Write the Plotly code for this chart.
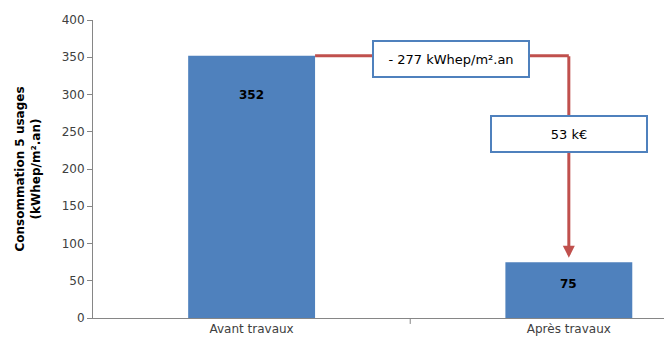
import plotly.graph_objects as go

# données
categories = ["Avant travaux", "Après travaux"]
valeurs = [352, 75]
pos_etiquettes = [299, 46]
cout = "53 k€"
gain = valeurs[0] - valeurs[1]

bleu = "#4F81BD"
rouge = "#C0504D"
police = "'DejaVu Sans', sans-serif"

fig = go.Figure()

fig.add_trace(
    go.Bar(
        x=[0, 1],
        y=valeurs,
        width=0.4,
        marker=dict(color=bleu, line=dict(width=0)),
        hoverinfo="skip",
    )
)

# valeurs dans les barres
for i, v in enumerate(valeurs):
    fig.add_annotation(
        x=i, y=pos_etiquettes[i], xref="x", yref="y",
        text=f"<b>{v}</b>", showarrow=False,
        font=dict(size=12, color="black", family=police),
    )

# ligne horizontale rouge depuis le haut de la 1re barre
fig.add_shape(
    type="line", xref="x", yref="y",
    x0=0.2, x1=1, y0=valeurs[0], y1=valeurs[0],
    line=dict(color=rouge, width=3),
    layer="below",
)

# flèche verticale vers la 2e barre
fig.add_annotation(
    x=1, y=valeurs[1] + 6, ax=1, ay=valeurs[0] + 1.5,
    xref="x", yref="y", axref="x", ayref="y",
    text="", showarrow=True,
    arrowhead=2, arrowsize=0.8, arrowwidth=3, arrowcolor=rouge,
)

# étiquettes encadrées
fig.add_annotation(
    x=0.629, y=valeurs[0] - 4, xref="x", yref="y",
    text=f"- {gain} kWhep/m².an", showarrow=False,
    font=dict(size=13, color="black", family=police),
    bgcolor="white", bordercolor=bleu, borderwidth=2,
    width=150, height=30, borderpad=2,
)
fig.add_annotation(
    x=1, y=247, xref="x", yref="y",
    text=cout, showarrow=False,
    font=dict(size=13, color="black", family=police),
    bgcolor="white", bordercolor=bleu, borderwidth=2,
    width=150, height=30, borderpad=2,
)

fig.update_layout(
    width=664, height=343,
    margin=dict(l=93, r=0, t=20, b=25),
    plot_bgcolor="white", paper_bgcolor="white",
    showlegend=False,
    font=dict(family=police, size=12, color="#404040"),
    xaxis=dict(
        range=[-0.5, 1.3],
        tickmode="array", tickvals=[0, 1], ticktext=categories,
        showgrid=False, showline=True, linecolor="#868686", linewidth=1,
        ticks="", zeroline=False, automargin=False,
        tickfont=dict(size=12, color="#404040"),
    ),
    yaxis=dict(
        range=[0, 400], dtick=50,
        showgrid=False, showline=True, linecolor="#868686", linewidth=1,
        ticks="outside", ticklen=5, tickcolor="#868686",
        zeroline=False, automargin=False,
        tickfont=dict(size=12, color="#404040"),
        title=dict(
            text="<b>Consommation 5 usages<br>(kWhep/m².an)</b>",
            font=dict(size=12, color="black"),
            standoff=18,
        ),
    ),
)

# petite graduation entre les deux catégories
fig.add_shape(
    type="line", xref="x", yref="paper",
    x0=0.5, x1=0.5, y0=0, y1=-0.02,
    line=dict(color="#868686", width=1),
)

# pas de marge autour de la page, pas de barre d'outils
fig.write_html(
    "out.html",
    config={"displayModeBar": False},
    post_script="document.body.style.margin='0';",
)
